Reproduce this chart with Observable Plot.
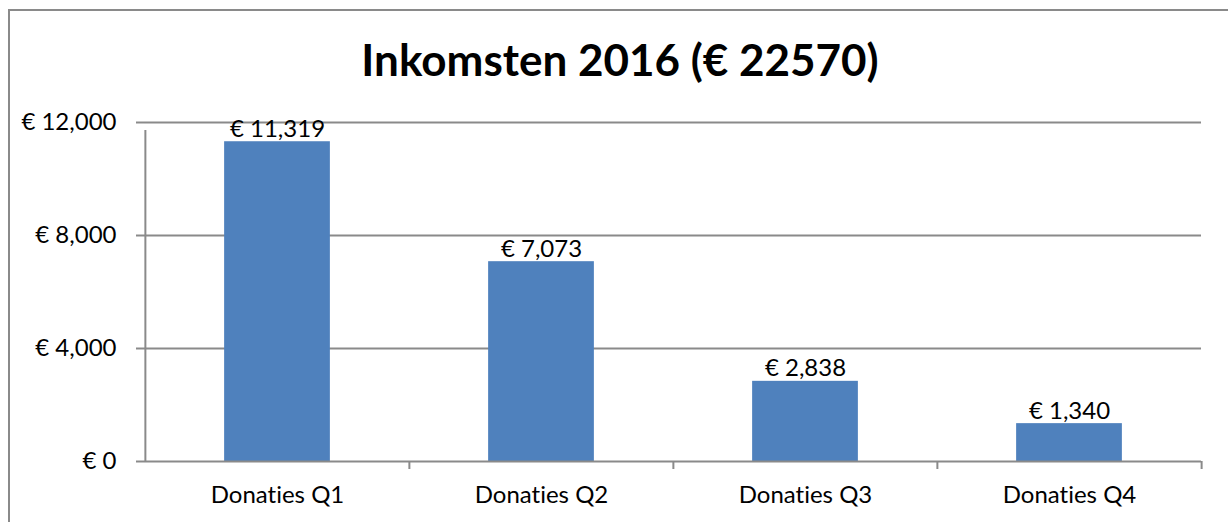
<!DOCTYPE html>
<html>
<head>
<meta charset="utf-8">
<script src="https://cdn.jsdelivr.net/npm/d3@7"></script>
<script src="https://cdn.jsdelivr.net/npm/@observablehq/plot@0.6"></script>
<style>
  html, body { margin: 0; padding: 0; background: #fff; }
  #wrap { position: relative; width: 1228px; height: 522px; overflow: hidden; background: #fff; font-family: Lato, "Noto Sans", sans-serif; font-variant-ligatures: none; }
  #border { position: absolute; left: 8px; top: 9px; width: 1260px; height: 560px; border: 2px solid #8a8a8a; box-sizing: border-box; }
  #title { position: absolute; left: 0; top: 0; width: 1240px; height: 100px; box-sizing: border-box; padding-top: 37px; text-align: center; font-size: 44px; line-height: 1; font-weight: bold; color: #000; }
  #chart { position: absolute; left: 0; top: 100px; }
  #chart svg { overflow: visible; font-variant-ligatures: none; }
</style>
</head>
<body>
<div id="wrap">
  <div id="border"></div>
  <div id="title">Inkomsten 2016 (€ 22570)</div>
  <div id="chart"></div>
</div>
<script>
const categories = ["Donaties Q1", "Donaties Q2", "Donaties Q3", "Donaties Q4"];
const values = [11319, 7073, 2838, 1340];
const yTicks = [0, 4000, 8000, 12000];

const data = categories.map((c, i) => ({cat: c, value: values[i]}));
const euro = d => "€ " + d3.format(",")(d);

const W = 1228, H = 422;
const mL = 144, mR = 27, mT = 22, mB = 61;
const band = (W - mL - mR) / categories.length;
const grey = "#8a8a8a";

const chart = Plot.plot({
  width: W,
  height: H,
  marginLeft: mL,
  marginRight: mR,
  marginTop: mT,
  marginBottom: mB,
  style: {fontFamily: "Lato, 'Noto Sans', sans-serif", fontSize: "24px", color: "#000", background: "transparent"},
  x: {domain: categories, padding: 0, axis: null, label: null},
  y: {domain: [0, 12000], axis: null, label: null},
  marks: [
    Plot.ruleY(yTicks.slice(1), {stroke: grey, strokeWidth: 2}),
    Plot.barY(data, {x: "cat", y: "value", fill: "#4F81BD", insetLeft: (band - 106) / 2, insetRight: (band - 106) / 2}),
    Plot.ruleY([0], {stroke: grey, strokeWidth: 2}),
    // left axis line
    Plot.ruleX([categories[0]], {x: d => d, y1: 0, y2: 12000, dx: -band / 2, stroke: grey, strokeWidth: 2, insetBottom: -8}),
    // category boundary ticks
    Plot.ruleX(categories.slice(1), {x: d => d, y1: 0, y2: 0, dx: -band / 2, stroke: grey, strokeWidth: 2, insetBottom: -8}),
    Plot.ruleX([categories[categories.length - 1]], {x: d => d, y1: 0, y2: 0, dx: band / 2, stroke: grey, strokeWidth: 2, insetBottom: -8}),
    Plot.axisY(yTicks, {label: null, tickFormat: euro, tickSize: 8, tickPadding: 20, stroke: grey, strokeWidth: 2, fontSize: 24, fill: "#000"}),
    Plot.axisX(categories, {label: null, tickSize: 0, tickPadding: 24, fontSize: 24, fill: "#000"}),
    Plot.text(data, {x: "cat", y: "value", text: d => euro(d.value), dy: -5, lineAnchor: "bottom", fontSize: 24, fill: "#000"})
  ]
});
document.getElementById("chart").appendChild(chart);
</script>
</body>
</html>
